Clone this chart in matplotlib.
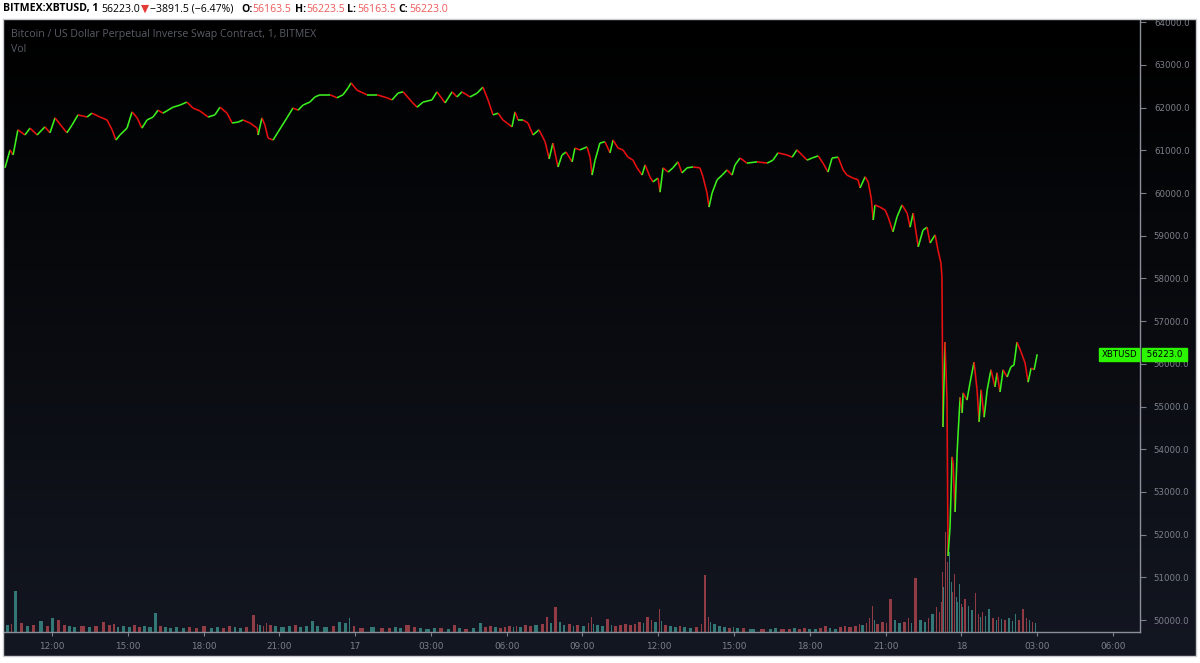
import numpy as np
import matplotlib
matplotlib.use("Agg")
import matplotlib.pyplot as plt
from matplotlib.collections import LineCollection
from matplotlib.patches import Rectangle
import matplotlib.transforms as mtransforms

# time in hours since 16 Apr 00:00 (1-minute chart, BITMEX XBTUSD)
hours = [
    10.14, 10.34, 10.46, 10.65, 10.93, 11.13, 11.41, 11.72, 11.92, 12.12,
    12.40, 12.59, 12.79, 13.03, 13.39, 13.58, 13.90, 14.18, 14.38, 14.53,
    14.69, 14.97, 15.17, 15.37, 15.56, 15.76, 16.00, 16.20, 16.39, 16.59,
    16.79, 17.07, 17.34, 17.58, 17.86, 18.18, 18.45, 18.65, 18.93, 19.13,
    19.36, 19.56, 19.84, 20.12, 20.16, 20.31, 20.43, 20.55, 20.75, 20.95,
    21.30, 21.54, 21.74, 21.94, 22.21, 22.41, 22.61, 23.01, 23.28, 23.52,
    23.72, 23.84, 24.07, 24.47, 24.87, 25.26, 25.46, 25.70, 25.90, 26.25,
    26.45, 26.69, 27.04, 27.24, 27.56, 27.84, 28.03, 28.23, 28.55, 28.83,
    29.06, 29.26, 29.46, 29.66, 29.85, 30.01, 30.21, 30.33, 30.45, 30.65,
    30.84, 31.04, 31.28, 31.52, 31.68, 31.83, 32.03, 32.19, 32.35, 32.59,
    32.70, 32.90, 33.18, 33.30, 33.38, 33.50, 33.69, 33.89, 34.09, 34.21,
    34.41, 34.60, 34.80, 35.00, 35.16, 35.36, 35.48, 35.67, 35.79, 35.99,
    36.07, 36.19, 36.39, 36.58, 36.78, 36.94, 37.14, 37.38, 37.65, 37.77,
    37.93, 38.01, 38.13, 38.33, 38.53, 38.72, 38.92, 39.04, 39.24, 39.51,
    39.91, 40.31, 40.54, 40.74, 41.10, 41.30, 41.49, 41.69, 41.89, 42.09,
    42.33, 42.52, 42.72, 42.88, 43.12, 43.32, 43.47, 43.71, 43.91, 43.99,
    44.19, 44.31, 44.43, 44.51, 44.58, 44.78, 44.98, 45.10, 45.29, 45.45,
    45.65, 45.85, 45.97, 46.09, 46.29, 46.48, 46.64, 46.76, 46.96, 47.07,
    47.19, 47.23, 47.27, 47.35, 47.43, 47.47, 47.55, 47.63, 47.67, 47.75,
    47.83, 47.87, 47.95, 48.03, 48.07, 48.22, 48.34, 48.50, 48.62, 48.70,
    48.78, 48.90, 49.02, 49.17, 49.33, 49.41, 49.53, 49.65, 49.81, 49.96,
    50.08, 50.20, 50.36, 50.52, 50.64, 50.76, 50.88, 51.00,
]

price = [
    60590, 61010, 60890, 61480, 61360, 61520, 61360, 61550, 61410, 61760,
    61550, 61410, 61590, 61830, 61780, 61870, 61780, 61710, 61480, 61240,
    61360, 61520, 61900, 61760, 61520, 61710, 61780, 61940, 61870, 61940,
    62010, 62060, 62130, 61990, 61920, 61780, 61830, 62010, 61870, 61640,
    61660, 61710, 61640, 61520, 61360, 61760, 61590, 61290, 61240, 61430,
    61760, 61990, 61940, 62060, 62130, 62250, 62300, 62300, 62230, 62300,
    62460, 62580, 62410, 62300, 62300, 62230, 62180, 62340, 62370, 62130,
    62010, 62130, 62180, 62370, 62110, 62370, 62250, 62370, 62250, 62340,
    62480, 62180, 61830, 61870, 61710, 61640, 61550, 61900, 61710, 61710,
    61640, 61360, 61480, 61200, 60800, 61170, 60610, 60890, 60960, 60730,
    61050, 61010, 61080, 60840, 60420, 60770, 61170, 61200, 60940, 61240,
    61050, 61010, 60840, 60770, 60590, 60420, 60660, 60380, 60260, 60350,
    60020, 60590, 60490, 60590, 60730, 60470, 60590, 60610, 60590, 60380,
    60000, 59670, 60000, 60310, 60420, 60540, 60420, 60660, 60820, 60700,
    60730, 60700, 60770, 60940, 60890, 60840, 61010, 60890, 60770, 60820,
    60870, 60700, 60490, 60820, 60840, 60540, 60420, 60350, 60310, 60120,
    60380, 60260, 59880, 59370, 59720, 59670, 59600, 59440, 59090, 59440,
    59720, 59530, 59200, 59530, 58740, 59130, 59200, 58830, 59020, 58670,
    58360, 58030, 54520, 56510, 55150, 51500, 52180, 53820, 53680, 52530,
    53910, 54380, 55220, 54850, 55320, 55150, 55550, 56040, 55390, 54640,
    55390, 54750, 55390, 55860, 55460, 55790, 55340, 55860, 55690, 55930,
    55970, 56510, 56280, 56020, 55570, 55900, 55860, 56223,
]

# volume (million contracts) for each interval ending at the matching time
volume = [
    6, 7, 8, 41, 9, 6, 7, 11, 6, 14,
    12, 7, 6, 5, 6, 5, 6, 10, 7, 8,
    5, 6, 5, 7, 5, 6, 5, 19, 6, 5,
    4, 5, 4, 5, 4, 6, 4, 5, 4, 6,
    5, 4, 5, 17, 8, 7, 6, 9, 7, 6,
    5, 6, 7, 5, 6, 11, 6, 5, 6, 10,
    9, 14, 6, 4, 5, 4, 4, 5, 4, 7,
    5, 4, 3, 4, 4, 3, 7, 4, 3, 4,
    9, 5, 6, 5, 4, 5, 6, 5, 6, 5,
    7, 6, 7, 8, 15, 9, 25, 10, 7, 8,
    6, 7, 6, 9, 15, 8, 7, 6, 13, 7,
    6, 7, 8, 7, 8, 10, 9, 15, 12, 10,
    23, 11, 7, 6, 5, 6, 5, 4, 5, 8,
    57, 15, 10, 8, 6, 5, 4, 5, 4, 4,
    3, 3, 3, 4, 3, 3, 4, 3, 4, 3,
    3, 4, 6, 4, 3, 5, 6, 5, 6, 8,
    7, 9, 14, 26, 12, 8, 10, 9, 33, 12,
    9, 10, 14, 9, 54, 12, 10, 14, 18, 25,
    20, 30, 60, 45, 100, 70, 80, 50, 40, 58,
    35, 30, 48, 28, 25, 33, 26, 22, 39, 18,
    15, 20, 16, 23, 14, 12, 15, 13, 12, 14,
    11, 18, 12, 23, 14, 12, 10, 9,
]

tick_hours = [12, 15, 18, 21, 24, 27, 30, 33, 36, 39, 42, 45, 48, 51, 54]
tick_labels = ["12:00", "15:00", "18:00", "21:00", "17", "03:00", "06:00", "09:00",
               "12:00", "15:00", "18:00", "21:00", "18", "03:00", "06:00"]
price_ticks = list(range(50000, 64001, 1000))
last_price = 56223.0

W, H = 1200, 663
fig = plt.figure(figsize=(W / 100, H / 100), dpi=100, facecolor="white")


def frect(x0, y0, x1, y1):
    # pixel box (top-left origin) -> figure fraction rect
    return [x0 / W, 1 - y1 / H, (x1 - x0) / W, (y1 - y0) / H]


# dark panel with vertical gradient
bg = fig.add_axes(frect(3, 19, 1196, 656))
bg.set_axis_off()
grad = np.linspace(0, 1, 256)[:, None]
top = np.array([0.0, 0.0, 0.0])
bot = np.array([0.075, 0.09, 0.13])
img = top + (bot - top) * grad[..., None]
img = np.repeat(img, 2, axis=1)
bg.imshow(img, aspect="auto", extent=[0, 1, 0, 1], origin="upper")
bg.set_xlim(0, 1)
bg.set_ylim(0, 1)
fig.patches.append(Rectangle((3 / W, 1 - 656 / H), 1193 / W, 637 / H, transform=fig.transFigure,
                             fill=False, edgecolor="#c9cbd1", linewidth=1))

ax = fig.add_axes(frect(4, 20, 1140, 632))
ax.patch.set_alpha(0)
ax.set_xlim(10.10, 55.07)
ax.set_ylim(49719, 64052)

# volume pane
vax = ax.twinx()
vax.set_ylim(0, 612)
vax.set_axis_off()
t = np.array(hours)
p = np.array(price)
v = np.array(volume)
gaps = np.diff(t, prepend=t[0] - 0.2)
up = np.diff(p, prepend=p[0] - 1) >= 0
vcol = np.where(up, "#3a8a86", "#a9434c")
vax.bar(t - gaps / 2, v, width=gaps * 0.5, color=vcol, alpha=0.85, linewidth=0)

# price line coloured by direction
pts = np.column_stack([t, p])
segs = np.stack([pts[:-1], pts[1:]], axis=1)
seg_col = np.where(p[1:] >= p[:-1], "#3cf01e", "#e81010")
lc = LineCollection(segs, colors=seg_col, linewidths=1.15, zorder=3, capstyle="butt")
ax.add_collection(lc)
ax.set_zorder(vax.get_zorder() + 1)

# axes styling
for s in ["left", "top"]:
    ax.spines[s].set_visible(False)
for s in ["right", "bottom"]:
    ax.spines[s].set_color("#8c8f99")
    ax.spines[s].set_linewidth(1)
ax.yaxis.tick_right()
ax.set_yticks(price_ticks)
ax.set_yticklabels([f"{x:.1f}" for x in price_ticks])
ax.set_xticks(tick_hours)
ax.set_xticklabels(tick_labels)
ax.tick_params(axis="y", colors="#7d808a", labelcolor="#7d808a", length=4, width=0.8,
               labelsize=6.2, pad=6)
ax.tick_params(axis="x", colors="#7d808a", labelcolor="#7d808a", length=3, width=0.8,
               labelsize=6.4, pad=4)
for lab in ax.get_xticklabels() + ax.get_yticklabels():
    lab.set_family("DejaVu Sans")

# current price labels
blend = mtransforms.blended_transform_factory(ax.transAxes, ax.transData)
ax.text(0.9975, last_price, "XBTUSD", transform=blend, ha="right", va="center",
        fontsize=6.2, color="black", zorder=10, clip_on=False,
        bbox=dict(boxstyle="square,pad=0.25", fc="#2cf500", ec="#2cf500"))
ax.text(1.0035, last_price, " " + f"{last_price:.1f}" + " ", transform=blend, ha="left",
        va="center", fontsize=6.2, color="black", zorder=10, clip_on=False,
        bbox=dict(boxstyle="square,pad=0.25", fc="#2cf500", ec="#2cf500"))

# pane titles
fig.text(11 / W, 1 - 35 / H, "Bitcoin / US Dollar Perpetual Inverse Swap Contract, 1, BITMEX",
         fontsize=7.6, color="#5a5d66", family="Open Sans", va="center")
fig.text(11 / W, 1 - 49 / H, "Vol", fontsize=7.6, color="#5a5d66", family="Open Sans", va="center")

# header line
red = "#ef5a5a"
hy = 1 - 9 / H
header = [
    (3, "BITMEX:XBTUSD, 1", "black", "bold"),
    (101, "56223.0", "black", "normal"),
    (141, "\u25bc", "#e53935", "normal"),
    (150, "\u22123891.5 (\u22126.47%)", "black", "normal"),
    (241, "O:", "black", "bold"),
    (252, "56163.5", red, "normal"),
    (295, "H:", "black", "bold"),
    (306, "56223.5", red, "normal"),
    (347, "L:", "black", "bold"),
    (357, "56163.5", red, "normal"),
    (398, "C:", "black", "bold"),
    (409, "56223.0", red, "normal"),
]
for x0, s, c, w in header:
    fig.text(x0 / W, hy, s, color=c, fontweight=w, fontsize=7.6,
             family=["Open Sans", "DejaVu Sans"], va="center", ha="left")

fig.savefig("out.png", dpi=100, facecolor="white")
